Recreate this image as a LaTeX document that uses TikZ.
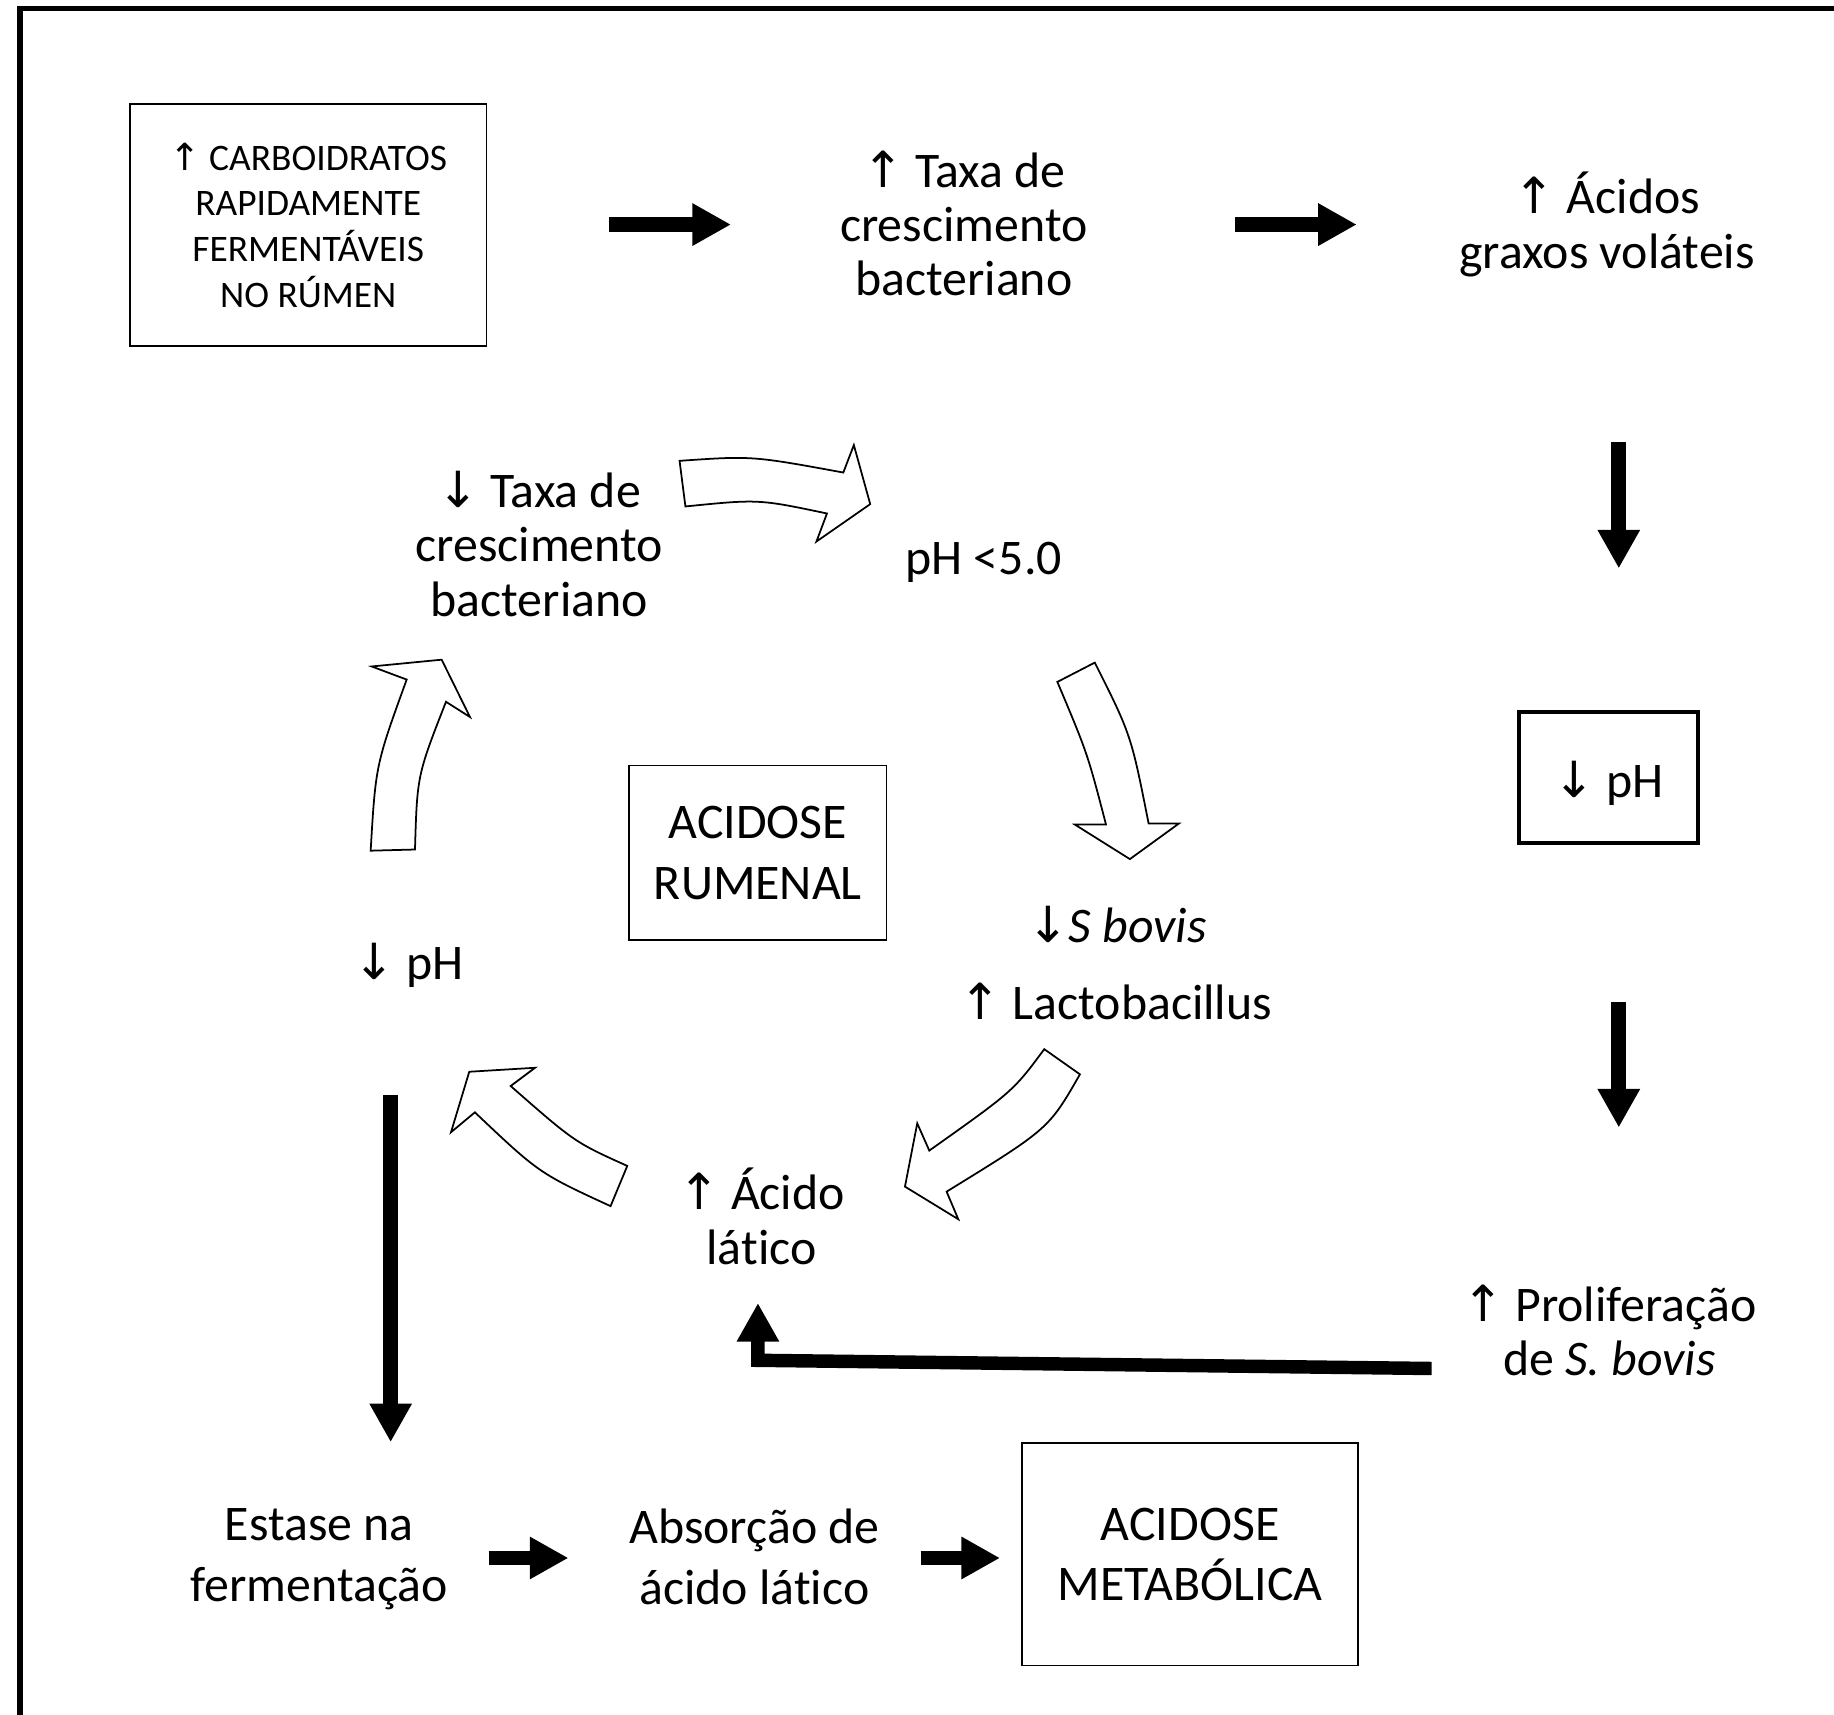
\documentclass[tikz,border=0pt]{standalone}
\usepackage{fontspec}
\setmainfont{Carlito}[Ligatures=NoCommon]
\newfontfamily\arrfont{DejaVu Sans}
\usetikzlibrary{arrows.meta}
\newcommand{\upar}{{\arrfont ↑}}
\newcommand{\dnar}{{\arrfont ↓}}
\begin{document}
\begin{tikzpicture}[x=1pt,y=-1pt,
  txt/.style={align=center, inner sep=0pt, font=\fontsize{42.6}{46.5}\selectfont},
  txtw/.style={align=center, inner sep=0pt, font=\fontsize{42.6}{52}\selectfont},
  boxed/.style={draw, line width=1.5pt, align=center, inner sep=0pt},
  blk/.style={line width=12.5pt, -{Triangle[length=33pt,width=34pt]}},
  hollow/.style={draw, fill=white, line width=1.5pt, line join=miter},
  frame/.style={line width=4.5pt, line join=miter}]
\useasboundingbox (0,0) rectangle (1568,1466);
\fill[white] (0,0) rectangle (1568,1466);
% partial frame
\coordinate (fbl) at (17,1470);
\coordinate (ftl) at (17,7);
\coordinate (ftr) at (1572,7);
\draw[frame] (fbl) -- (ftl) -- (ftr);

% nodes
\node[boxed, minimum width=305pt, minimum height=207pt,
      font=\fontsize{32}{39}\selectfont] (carb) at (263.5,192.5)
  {\upar{} CARBOIDRATOS\\RAPIDAMENTE\\FERMENTÁVEIS\\NO RÚMEN};
\node[txt] (taxaup) at (824,191) {\upar{} Taxa de\\crescimento\\bacteriano};
\node[txt] (agv) at (1374,192) {\upar{} Ácidos\\graxos voláteis};
\node[txt] (taxadn) at (461,465) {\dnar{} Taxa de\\crescimento\\bacteriano};
\node[txt] (ph5) at (841,481) {pH <5.0};
\node[boxed, txtw, minimum width=220pt, minimum height=149pt] (rum) at (648,729)
  {ACIDOSE\\RUMENAL};
\node[txt] (sbov) at (955,790) {\dnar\textit{S bovis}};
\node[txt] (lacto) at (954,856) {\upar{} Lactobacillus};
\node[txt] (phl) at (349,825) {\dnar{} pH};
\node[txt] (acido) at (651,1040) {\upar{} Ácido\\lático};
\node[boxed, line width=3.5pt, minimum width=153pt, minimum height=112pt] (phbox) at (1375.5,665) {};
\node[txt] (phtxt) at (1375.5,670) {\dnar{} pH};
\node[txt] (prolif) at (1376,1137.5) {\upar{} Proliferação\\de \textit{S. bovis}};
\node[txtw] (estase) at (273,1333) {Estase na\\fermentação};
\node[txtw] (absor) at (645,1331) {Absorção de\\ácido lático};
\node[boxed, txtw, minimum width=287pt, minimum height=190pt] (met) at (1017.5,1329)
  {ACIDOSE\\METABÓLICA};

% solid arrows
\coordinate (a1s) at (521,192);   \coordinate (a1e) at (625,192);
\coordinate (a2s) at (1056,192);  \coordinate (a2e) at (1160,192);
\coordinate (v1s) at (1384,378);  \coordinate (v1e) at (1384,486);
\coordinate (v2s) at (1384,857);  \coordinate (v2e) at (1384,964);
\coordinate (vls) at (334,936);   \coordinate (vle) at (334,1233);
\coordinate (b1s) at (418,1332);  \coordinate (b1e) at (486,1332);
\coordinate (b2s) at (787,1332);  \coordinate (b2e) at (855,1332);
\coordinate (ls) at (1224,1170);  \coordinate (lc) at (648,1163);
\coordinate (le) at (648,1114);
\draw[blk] (a1s) -- (a1e);
\draw[blk] (a2s) -- (a2e);
\draw[blk] (v1s) -- (v1e);
\draw[blk] (v2s) -- (v2e);
\draw[blk] (vls) -- (vle);
\draw[blk] (b1s) -- (b1e);
\draw[blk] (b2s) -- (b2e);
\draw[blk, line width=11.5pt, line join=miter] (ls) -- (lc) -- (le);

% hollow curved arrows
\draw[hollow] (581,394) .. controls (643,389.7) .. (721,404) -- (730,380.5) -- (744,431)
  -- (698,463) -- (707,439) .. controls (648.5,426.7) .. (586,433) -- cycle;
\draw[hollow] (904,583) .. controls (929.7,644) .. (945.6,705) -- (919,705) -- (966,734.5)
  -- (1008,704) -- (982,704) .. controls (967,628.25) .. (936,566.5) -- cycle;
\draw[hollow] (892.8,897) .. controls (866.25,932.8) .. (794.5,983.7) -- (784.2,960.4)
  -- (773.7,1014.5) -- (819.3,1042.4) -- (809.3,1018.8) .. controls (896.6,965.1) .. (923.3,918.5) -- cycle;
\draw[hollow] (536.3,996.8) .. controls (491.45,976.6) .. (436.6,928.5) -- (457.4,912.9)
  -- (401.2,916.3) -- (385.6,968) -- (406,951) .. controls (460.9,1003) .. (522,1031.2) -- cycle;
\draw[hollow] (316.9,727.3) .. controls (321.2,654) .. (347.7,581) -- (317.8,569.8)
  -- (377.6,564) -- (401.8,613) -- (381.3,600) .. controls (356.65,662.95) .. (354.8,726.3) -- cycle;
\end{tikzpicture}
\end{document}
